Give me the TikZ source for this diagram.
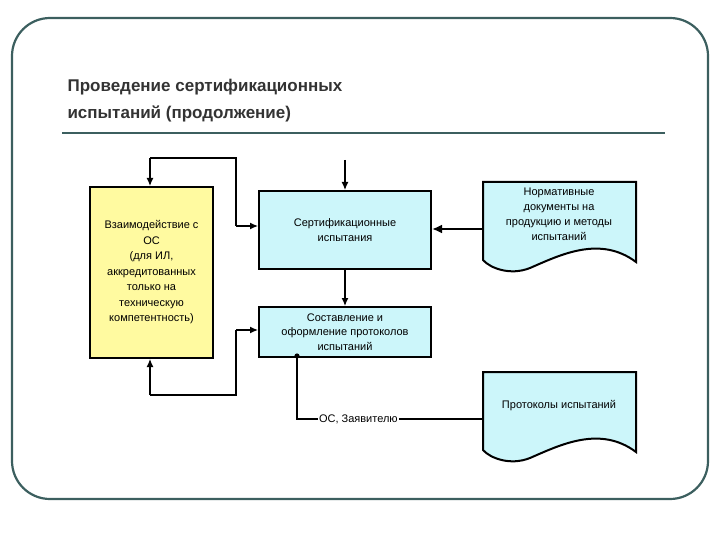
\documentclass[tikz,border=0pt]{standalone}
\usepackage{fontspec}
\setmainfont{Liberation Sans}
\usetikzlibrary{arrows.meta}
\begin{document}
\begin{tikzpicture}[x=1pt,y=-1pt,
  box/.style={draw,line width=2pt,align=center,font=\fontsize{11}{15.5}\selectfont,inner sep=2pt},
  ln/.style={line width=1.3pt},
  arr/.style={ln,-{Latex[length=8pt,width=7pt]}}]
\useasboundingbox (0,0) rectangle (720,540);
\draw[color={rgb,255:red,60;green,95;blue,95},line width=2.2pt,rounded corners=38pt] (12,18) rectangle (708,499);
\node[anchor=west,align=left,font=\fontsize{17}{27}\selectfont\bfseries,text={rgb,255:red,51;green,51;blue,51}] (title) at (64,101) {Проведение сертификационных\\испытаний (продолжение)};
\draw[line width=1.8pt,color={rgb,255:red,60;green,95;blue,95}] (62,133) -- (665,133);
\node[box,fill={rgb,255:red,255;green,250;blue,160},minimum width=123pt,minimum height=171pt,anchor=north west] (y) at (89,186) {Взаимодействие с\\ОС\\(для ИЛ,\\аккредитованных\\только на\\техническую\\компетентность)};
\node[box,fill={rgb,255:red,204;green,246;blue,250},minimum width=172pt,minimum height=78pt,anchor=north west] (c) at (258,190) {Сертификационные\\испытания};
\node[box,fill={rgb,255:red,204;green,246;blue,250},minimum width=172pt,minimum height=50pt,anchor=north west,font=\fontsize{11}{14.5}\selectfont] (s) at (258,306) {Составление и\\оформление протоколов\\испытаний};
% documents
\draw[line width=2pt,fill={rgb,255:red,204;green,246;blue,250}] (483,182) -- (636,182) -- (636,262) .. controls (600,235) and (560,255) .. (530,268) .. controls (510,276) and (490,268) .. (483,260) -- cycle;
\node[align=center,font=\fontsize{11}{15}\selectfont] (n) at (559,214) {Нормативные\\документы на\\продукцию и методы\\испытаний};
\draw[line width=2pt,fill={rgb,255:red,204;green,246;blue,250}] (483,372) -- (636,372) -- (636,452) .. controls (600,425) and (560,445) .. (530,458) .. controls (510,466) and (490,458) .. (483,450) -- cycle;
\node[font=\fontsize{11}{14}\selectfont] (p) at (559,406) {Протоколы испытаний};
\coordinate (nl) at (483,229);
\coordinate (pl) at (483,419);
% connectors
\coordinate (t1) at (c.north |- 0,160);
\draw[arr] (t1) -- (c.north);
\draw[arr] (c.south) -- (s.north);
\draw[line width=2.2pt,-{Latex[length=10pt,width=9pt]}] (nl) -- (c.east |- nl);
\coordinate (a1) at (150,158); \coordinate (a2) at (236,158); \coordinate (a3) at (236,226);
\draw[arr] (a1) -- (y.north -| a1);
\draw[ln] (a1) -- (a2) -- (a3);
\draw[arr] (a3) -- (c.west |- a3);
\coordinate (b1) at (150,395); \coordinate (b2) at (236,395); \coordinate (b3) at (236,330);
\draw[ln] (b3) -- (b2) -- (b1);
\draw[arr] (b1) -- (y.south -| b1);
\draw[arr] (b3) -- (s.west |- b3);
\coordinate (d) at (297,356);
\fill (d) circle (2.6pt);
\draw[ln] (d) -- (297,419) -- (pl) node[pos=0.33,fill=white,inner sep=1pt,font=\fontsize{11}{14}\selectfont] (lbl) {ОС, Заявителю};
\end{tikzpicture}
\end{document}
